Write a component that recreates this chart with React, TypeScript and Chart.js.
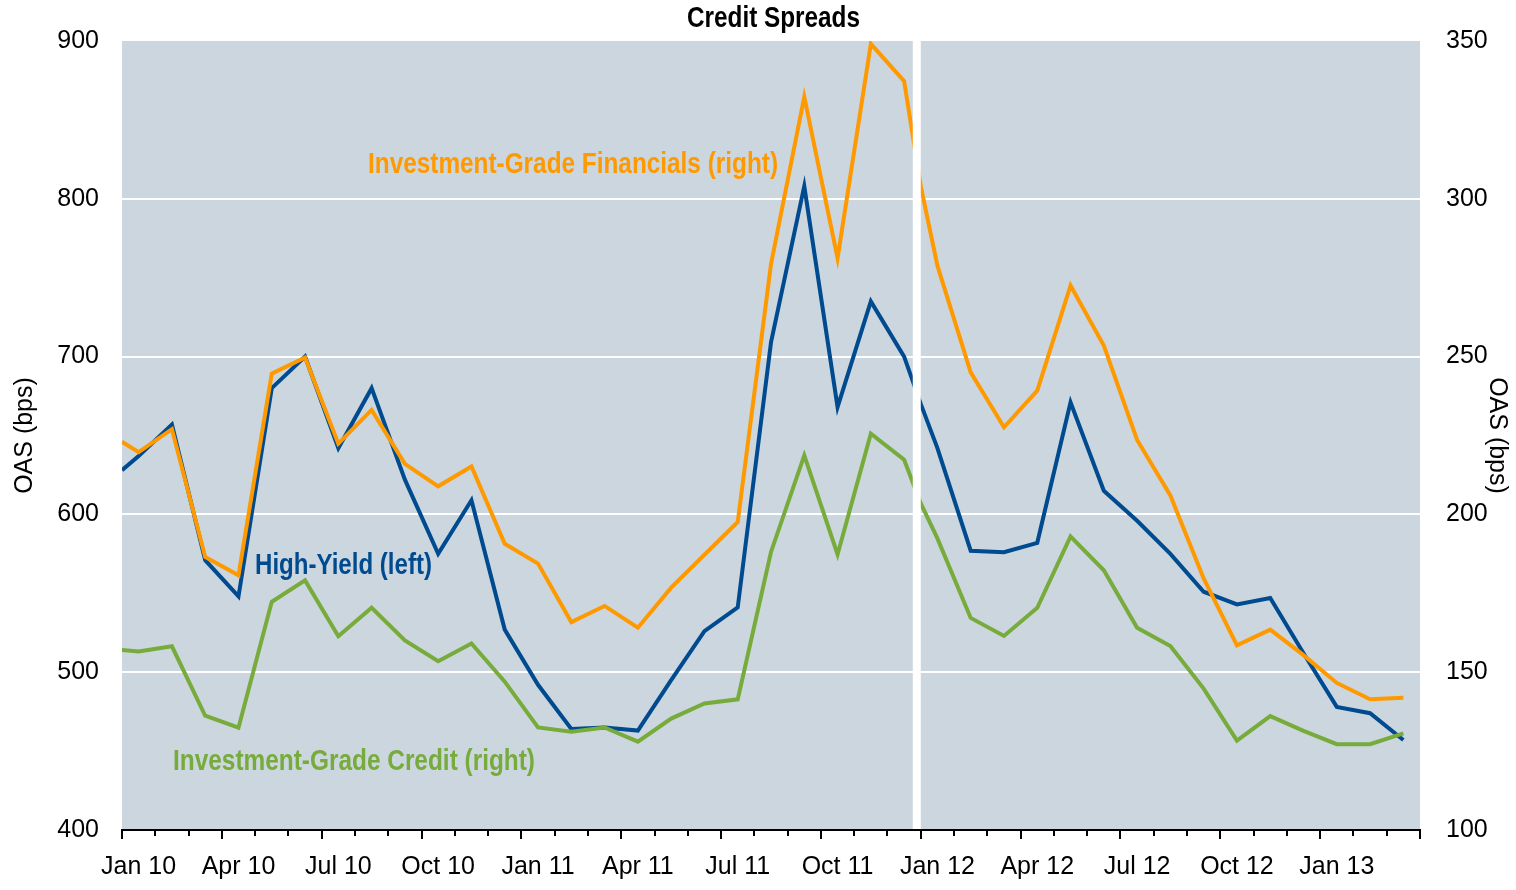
import React, { useEffect, useRef } from "react";
import { Chart, registerables } from "chart.js";

Chart.register(...registerables);

// Quarter labels shown on the x axis (centred on their month)
const quarterLabels = [
  "Jan 10", "Apr 10", "Jul 10", "Oct 10",
  "Jan 11", "Apr 11", "Jul 11", "Oct 11",
  "Jan 12", "Apr 12", "Jul 12", "Oct 12",
  "Jan 13",
];

// Observation dates in months since 1 Jan 2010 (0 = end-2009, 24 = end-2011, others mid-month)
const monthPos = [
  0, 0.5, 1.5, 2.5, 3.5, 4.5, 5.5, 6.5, 7.5, 8.5, 9.5, 10.5, 11.5,
  12.5, 13.5, 14.5, 15.5, 16.5, 17.5, 18.5, 19.5, 20.5, 21.5, 22.5, 23.5,
  24, 24.5, 25.5, 26.5, 27.5, 28.5, 29.5, 30.5, 31.5, 32.5, 33.5, 34.5,
  35.5, 36.5, 37.5, 38.5,
];

// High-Yield OAS (bps, left axis)
const highYield = [
  628, 637, 657, 571, 548, 680, 700, 642, 680, 622, 575, 609, 527,
  492, 464, 465, 463, 495, 526, 541, 709, 808, 668, 735, 700,
  670, 642, 577, 576, 582, 671, 615, 596, 575, 551, 543, 547,
  512, 478, 474, 457,
];

// Investment-Grade Financials OAS (bps, right axis)
const igFinancials = [
  223, 219.7, 227, 186.5, 180.7, 244.6, 249.7, 222.4, 233.1, 216, 208.9, 215.2, 190.7,
  184.4, 165.9, 171, 164.1, 176.8, 187.2, 197.6, 279.3, 332.3, 281.2, 349.1, 337.3,
  304, 278.8, 245, 227.6, 239.2, 272.5, 253.5, 223.6, 206, 179.7, 158.5, 163.5,
  155.4, 146.6, 141.4, 141.9,
];

// Investment-Grade Credit OAS (bps, right axis)
const igCredit = [
  157, 156.6, 158.2, 136.2, 132.4, 172.3, 179.1, 161.4, 170.4, 160.1, 153.5, 159.1, 147,
  132.5, 131.1, 132.5, 128, 135.3, 140.1, 141.4, 188.1, 218.7, 187.3, 225.6, 217.3,
  203.5, 192.4, 167.2, 161.5, 170.4, 193, 182.3, 164.1, 158.3, 144.8, 128.3, 136.1,
  131.4, 127.2, 127.2, 130.6,
];

const BLUE = "#004A8F";
const ORANGE = "#FF9900";
const GREEN = "#77AB3B";
const PLOT_BG = "#CCD6DF";
const FONT = "'Liberation Sans', Arial, sans-serif";

function toPoints(values: number[]) {
  return values.map((v, i) => ({ x: monthPos[i], y: v }));
}

function drawFitText(
  ctx: CanvasRenderingContext2D,
  text: string,
  left: number,
  baseline: number,
  width: number,
  font: string,
  color: string
) {
  ctx.save();
  ctx.font = font;
  const w = ctx.measureText(text).width;
  ctx.translate(left, baseline);
  ctx.scale(width / w, 1);
  ctx.fillStyle = color;
  ctx.textAlign = "left";
  ctx.textBaseline = "alphabetic";
  ctx.fillText(text, 0, 0);
  ctx.restore();
}

const decorPlugin = {
  id: "decor",
  beforeDraw(chart: any) {
    const { ctx, chartArea } = chart;
    ctx.save();
    ctx.fillStyle = PLOT_BG;
    ctx.fillRect(chartArea.left, chartArea.top, chartArea.right - chartArea.left, chartArea.bottom - chartArea.top);
    ctx.restore();
  },
  afterDatasetsDraw(chart: any) {
    const { ctx, chartArea } = chart;
    const xs = chart.scales.x;
    const px = xs.getPixelForValue(24);
    ctx.save();
    ctx.fillStyle = "#FFFFFF";
    ctx.fillRect(px - 8, chartArea.top, 8, chartArea.bottom - chartArea.top - 1);
    ctx.restore();
  },
  afterDraw(chart: any) {
    const { ctx, chartArea } = chart;
    const xs = chart.scales.x;
    ctx.save();
    ctx.strokeStyle = "#000";
    ctx.lineWidth = 2;
    for (let k = 0; k <= 39; k++) {
      const px = Math.round(xs.getPixelForValue(k));
      const len = k % 3 === 0 ? 9 : 6;
      ctx.beginPath();
      ctx.moveTo(px, chartArea.bottom);
      ctx.lineTo(px, chartArea.bottom + len);
      ctx.stroke();
    }
    ctx.restore();

    drawFitText(ctx, "Credit Spreads", 687, 27, 173, `bold 29px ${FONT}`, "#000");
    drawFitText(ctx, "Investment-Grade Financials (right)", 368, 173, 410, `bold 29px ${FONT}`, ORANGE);
    drawFitText(ctx, "High-Yield (left)", 255, 574, 177, `bold 29px ${FONT}`, BLUE);
    drawFitText(ctx, "Investment-Grade Credit (right)", 173, 770, 362, `bold 29px ${FONT}`, GREEN);
  },
};

export default function App() {
  const canvasRef = useRef<HTMLCanvasElement | null>(null);

  useEffect(() => {
    const canvas = canvasRef.current;
    if (!canvas) return;
    const chart = new Chart(canvas, {
      type: "line",
      data: {
        datasets: [
          {
            label: "Investment-Grade Financials (right)",
            data: toPoints(igFinancials),
            yAxisID: "y2",
            borderColor: ORANGE,
            borderWidth: 4,
            pointRadius: 0,
            tension: 0,
            borderJoinStyle: "miter",
          },
          {
            label: "Investment-Grade Credit (right)",
            data: toPoints(igCredit),
            yAxisID: "y2",
            borderColor: GREEN,
            borderWidth: 4,
            pointRadius: 0,
            tension: 0,
            borderJoinStyle: "miter",
          },
          {
            label: "High-Yield (left)",
            data: toPoints(highYield),
            yAxisID: "y",
            borderColor: BLUE,
            borderWidth: 4,
            pointRadius: 0,
            tension: 0,
            borderJoinStyle: "miter",
          },
        ],
      },
      options: {
        animation: false,
        responsive: false,
        devicePixelRatio: 1,
        layout: { padding: { top: 40, left: 0, right: 0, bottom: 0 } },
        plugins: {
          legend: { display: false },
          tooltip: { enabled: false },
          title: { display: false },
        },
        scales: {
          x: {
            type: "linear",
            position: "bottom",
            min: 0,
            max: 39,
            afterBuildTicks: (s: any) => {
              s.ticks = quarterLabels.map((_, i) => ({ value: i * 3 + 0.5 }));
            },
            afterFit: (s: any) => {
              s.height = 60;
            },
            ticks: {
              autoSkip: false,
              maxRotation: 0,
              minRotation: 0,
              padding: 22,
              color: "#000",
              font: { family: FONT, size: 25 },
              callback: (_v: any, i: number) => quarterLabels[i],
            },
            grid: { display: false, drawTicks: false },
            border: { display: true, color: "#000", width: 2 },
          },
          y: {
            position: "left",
            min: 400,
            max: 900,
            afterFit: (s: any) => {
              s.width = 122;
            },
            ticks: {
              stepSize: 100,
              padding: 23,
              color: "#000",
              font: { family: FONT, size: 25 },
            },
            grid: {
              drawTicks: false,
              lineWidth: 2,
              color: (c: any) => (c.tick && (c.tick.value === 900 || c.tick.value === 400) ? "rgba(0,0,0,0)" : "#FFFFFF"),
            },
            border: { display: false },
            title: {
              display: true,
              text: "OAS (bps)",
              color: "#000",
              font: { family: FONT, size: 25 },
              padding: { top: 10, bottom: 0 },
            },
          },
          y2: {
            position: "right",
            min: 100,
            max: 350,
            afterFit: (s: any) => {
              s.width = 96;
            },
            ticks: {
              stepSize: 50,
              padding: 26,
              color: "#000",
              font: { family: FONT, size: 25 },
            },
            grid: { drawOnChartArea: false, drawTicks: false },
            border: { display: false },
            title: {
              display: true,
              text: "OAS (bps)",
              color: "#000",
              font: { family: FONT, size: 25 },
              padding: { top: 4, bottom: 0 },
            },
          },
        },
      },
      plugins: [decorPlugin],
    } as any);
    return () => {
      chart.destroy();
    };
  }, []);

  return (
    <div style={{ position: "absolute", left: 0, top: 0, width: 1516, height: 890 }}>
      <canvas ref={canvasRef} width={1516} height={890} style={{ display: "block" }} />
    </div>
  );
}
